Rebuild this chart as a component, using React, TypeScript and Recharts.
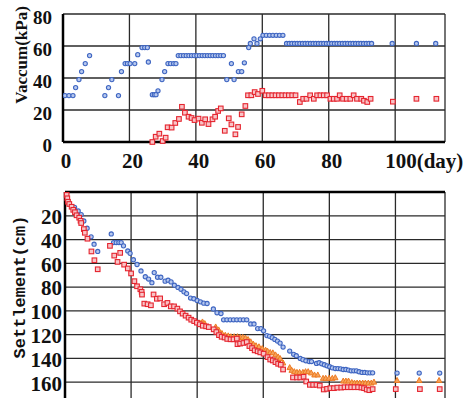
import React from "react";
import { CartesianGrid, Label, ReferenceLine, Scatter, ScatterChart, XAxis, YAxis } from "recharts";

// day ticks shared by both panels
const dayTicks = [0, 20, 40, 60, 80, 100];
const vacuumTicks = [0, 20, 40, 60, 80];
const settlementTicks = [0, 20, 40, 60, 80, 100, 120, 140, 160, 180];

// vacuum, blue circles
const vacBlueDays = [
  0.6, 1.8, 3, 3.8, 4.8, 5.6, 6.7, 8, 12.6, 13.7, 14.7, 16.7, 17.6, 18.7, 19.4, 20.2, 21.6, 22.5, 23.8, 24.6, 25.4, 25.7,
  26.9, 27.5, 28, 28.6, 29.8, 30.6, 31.6, 32.4, 33.3, 34, 34.7, 35.5, 36.3, 37.1, 37.9, 38.7, 39.5, 40.3, 41.1, 41.9,
  42.7, 43.5, 44.3, 45.1, 45.9, 46.7, 47.5, 48.3, 49.3, 50.7, 51.5, 52.8, 53.8, 54.6, 55.9, 56.4, 57.5, 58.4, 59.4,
  60.2, 61.2, 62.2, 63.2, 64.2, 65.2, 66.2, 67.3, 68.1, 68.9, 69.7, 70.5, 71.3, 72.1, 72.9, 73.7, 74.5, 75.3, 76.1,
  76.9, 77.7, 78.5, 79.3, 80.1, 80.9, 81.7, 82.5, 83.3, 84.1, 84.9, 85.7, 86.5, 87.3, 88.1, 88.9, 89.7, 90.5, 91.3,
  92.1, 92.9, 99.1, 106.4, 112.2,
];
const vacBlueKpa = [
  29, 29, 29, 34, 39, 44, 49, 54, 29, 34, 39, 29, 44, 49, 49, 49, 49, 54.6, 59, 59, 59, 50,
  29.6, 29.6, 29.6, 32, 39, 44, 49, 49, 49, 49, 54, 54, 54, 54, 54, 54, 54, 54, 54, 54,
  54, 54, 54, 54, 54, 54, 54, 54, 39, 49, 39, 44, 44, 49.5, 59, 61.6, 64.5, 61.6, 64.5,
  66.7, 66.7, 66.7, 66.7, 66.7, 66.7, 66.7, 61.6, 61.6, 61.6, 61.6, 61.6, 61.6, 61.6, 61.6, 61.6, 61.6, 61.6, 61.6,
  61.6, 61.6, 61.6, 61.6, 61.6, 61.6, 61.6, 61.6, 61.6, 61.6, 61.6, 61.6, 61.6, 61.6, 61.6, 61.6, 61.6, 61.6, 61.6,
  61.6, 61.6, 61.6, 61.6, 61.6,
];

// vacuum, red squares
const vacRedDays = [
  26.9, 27.9, 29, 30, 30.9, 31.5, 32.7, 33.8, 34.9, 35.8, 36.7, 37.8, 38.7, 39.6, 40.8, 41.8, 42.8, 43.8, 45, 45.8,
  46.7, 47.5, 48.7, 49.9, 50.7, 51.9, 52.7, 53.8, 54.9, 55.7, 56.7, 57.7, 58.7, 60, 61, 62, 63, 64, 65, 66, 67, 68,
  69, 70, 71.3, 72.3, 73.3, 74.4, 75.5, 76.5, 77.5, 78.5, 79.5, 80.5, 81.5, 82.5, 83.3, 84.3, 85.4, 86.5, 87.5, 88.5,
  89.8, 90.6, 91.6, 92.6, 99.3, 106.4, 112.4,
];
const vacRedKpa = [
  0, 3.3, 5.2, 0.6, 2.7, 9.2, 9, 11.9, 14.4, 22, 18.3, 15.8, 15, 13.7, 14.6, 12, 14.2, 11.2, 14.2, 15.8,
  19.4, 21, 7, 14.8, 11, 4.8, 9.4, 17.3, 22.5, 29.2, 29.2, 31.2, 30, 32, 29.2, 29.2, 29.2, 29.2, 29.2, 29.2, 29.2, 29.2,
  29.2, 29.2, 25, 27, 27, 29.2, 27, 29.2, 29.2, 29.2, 29.2, 27, 27, 27, 29.2, 27, 27, 27, 29.2, 27,
  27, 25.8, 25, 27, 25.2, 27, 27,
];

// settlement, blue circles
const setBlueDays = [
  2.9, 4, 4.9, 5.7, 6.7, 7.9, 8.8, 9.9, 14, 14.7, 15.5, 16.3, 17, 17.7, 19, 19.7, 20.7, 21.8, 23, 24.3, 25.3, 26.3,
  27, 28, 29, 30.3, 31.2, 32.1, 33.1, 34.2, 35.1, 36, 36.8, 38, 39, 40, 41, 42, 43, 44.9, 46, 47.2, 48, 49, 50, 51,
  52, 53, 54, 55, 56.2, 57.2, 58.3, 59.3, 60.1, 61.1, 61.9, 62.7, 63.5, 64.3, 65.1, 66, 68, 69.2, 70, 71.2, 72, 72.9,
  73.9, 74.6, 76.1, 76.9, 77.7, 78.5, 79.3, 80.1, 80.9, 81.8, 82.6, 83.4, 84.2, 85, 85.8, 86.6, 87.4, 88.2, 89, 89.9,
  90.7, 91.5, 92.3, 93.1, 100.5, 107.2, 113.4,
];
const setBlueCm = [
  12.9, 16, 19, 24.4, 30.5, 37.7, 43.9, 50, 35.3, 42.5, 42.5, 42.5, 42.5, 45.3, 49.6, 51.6, 57, 61, 66.4, 71.3, 73.2, 76.3,
  67.8, 71.7, 71.7, 75, 74.2, 75.6, 78.4, 80.3, 81.8, 84, 85.4, 89.2, 89.8, 91.2, 92.4, 93.5, 93.8, 98.4, 101.6, 102.2, 107.5, 107.5, 107.5, 107.5,
  107.5, 107.5, 107.5, 107.5, 111, 111, 114.9, 114.9, 116.8, 120.8, 121.4, 122.5, 124, 125.4, 127.1, 130.4, 133.8, 136.5, 137.7, 140, 141, 142,
  142.6, 142.6, 144.2, 143.6, 144.5, 145.3, 146.2, 147, 147.9, 148.5, 148.5, 148.7, 149.3, 149.3, 149.8, 150.4, 150.4, 150.4, 151.2, 151.8,
  151.8, 152.1, 152.1, 152.1, 152.3, 152.3, 152.3,
];

// settlement, red squares
const setRedDays = [
  0.5, 0.7, 0.9, 1.3, 2, 2.5, 3, 3.5, 4.3, 4.7, 4.9, 5.7, 6, 6.8, 8, 8.9, 9.9, 13.6, 14.9, 15.9, 16.7, 17.9, 19, 20,
  21, 21.8, 22.8, 23.2, 23.3, 24, 25, 26, 26.8, 27.8, 28.8, 30, 31, 32, 33, 34, 34.8, 35.6, 36.5, 37.4, 38.2, 39.1,
  39.9, 40.8, 41.7, 42.7, 43.5, 45, 45.8, 46.6, 47.4, 48.3, 49.1, 50.1, 51, 52, 52.2, 53, 54, 55, 55.8, 56.6, 57.4,
  58.3, 59.1, 60.1, 61.3, 62.1, 62.9, 63.7, 64.5, 65.3, 66, 69, 70.2, 71.2, 72.2, 73, 74.1, 75.1, 76.1, 77.1, 78.3,
  79.3, 80.3, 81.4, 82.4, 83.6, 84.6, 85.6, 86.6, 87.6, 88.7, 89.7, 90.5, 91.3, 92.1, 93.1, 100.1, 107.4, 113.4,
];
const setRedCm = [
  2.4, 5.3, 8.2, 10.1, 12.4, 15, 17, 19.6, 21.6, 24.2, 26.1, 31.2, 34.3, 39.3, 50, 57.4, 65, 45.3, 53.5, 58.8, 51.2, 61.1, 64.3, 68.5,
  75, 79.3, 81.8, 84, 86.3, 93.9, 94.4, 95.3, 86.2, 89.8, 89.5, 94.4, 93.3, 96.2, 96.2, 98.1, 100.4, 102.3, 104, 105.7, 107.4, 108.6,
  109.9, 111.3, 112.5, 113, 113.6, 115.5, 117.8, 120.4, 121.8, 122.4, 123.6, 123.9, 123.9, 123.3, 128, 127.5, 127, 126.2, 129.6, 131.3, 133.2,
  134, 134.9, 136, 138.9, 140.9, 141.7, 143.1, 144.5, 145.3, 149.3, 156, 156, 156, 155.4, 159.4, 162.2, 162.2, 162.2, 162.8, 166.1,
  165.6, 165, 165, 164.5, 164.5, 164.2, 164.2, 164.2, 164.2, 164.2, 164.5, 165, 166.1, 166.7, 165.8, 165.8, 165.8, 165.8,
];

// settlement, orange triangles
const setOrangeDays = [
  40.8, 41.6, 42.3, 45.6, 46.5, 47.5, 48.5, 49.4, 50.2, 51.2, 52.2, 53, 53.8, 54.6, 55.4, 56.2, 57, 57.8, 58.7, 59.7,
  60.7, 61.3, 62.1, 62.9, 63.7, 64.5, 65.1, 66, 68, 68.6, 69.4, 70.2, 71, 72, 72.8, 73.6, 74.5, 75.5, 76.5, 78.1, 78.9,
  79.9, 80.9, 81.8, 84.2, 85, 85.8, 86.8, 87.6, 88.4, 89.2, 90.1, 90.9, 91.8, 92.7, 93.5, 100.5, 107.2, 113.2,
];
const setOrangeCm = [
  110.2, 109.3, 110.7, 113.5, 116, 119, 120.5, 121, 121.7, 121.7, 121.7, 122.3, 122.3, 122.8, 124, 126, 128, 129.3, 130.2, 131.6,
  133, 133.9, 135, 135.3, 137, 138.7, 140.1, 143.8, 147.7, 150, 151.1, 151.7, 151.7, 151.7, 151.1, 151.1, 152.2, 153.9, 153.9, 156.7, 156.7,
  156.7, 156.7, 156.2, 159, 159, 159, 160.2, 160.7, 160.7, 160.7, 160.7, 160.7, 160.7, 160.7, 159.9, 158.5, 158.5, 158.5,
];

const toPoints = (xs: number[], ys: number[]) => xs.map((x, i) => ({ x, y: ys[i] }));

const serif = "Liberation Serif";
const mono = "Liberation Mono";

const Circle = (p: any) => <circle cx={p.cx} cy={p.cy} r={2.1} fill="#b7c8ee" stroke="#3f66c2" strokeWidth={1.1} />;
const Square = (p: any) => (
  <rect x={p.cx - 2.3} y={p.cy - 2.3} width={4.6} height={4.6} fill="#f8c3c6" stroke="#e5252f" strokeWidth={1.1} />
);
const Triangle = (p: any) => (
  <path d={`M${p.cx},${p.cy - 3} L${p.cx + 2.7},${p.cy + 2} L${p.cx - 2.7},${p.cy + 2} Z`} fill="#f5a35a" stroke="#ee7a22" strokeWidth={1} />
);

const txt = (size: number, family = serif) => ({ fontFamily: family, fontWeight: 700, fontSize: size, fill: "#111" });

const DayTick = ({ x, y, payload }: any) => {
  const last = payload.value === 100;
  return (
    <text x={last ? x - 10 : x + 3} y={y} dy="0.71em" textAnchor={last ? "start" : "middle"} style={txt(21)}>
      {last ? "100(day)" : payload.value}
    </text>
  );
};

const VacTick = ({ x, y, payload }: any) => (
  <text x={x} y={y + 3} dy="0.35em" textAnchor="end" style={txt(19)}>
    {payload.value}
  </text>
);

const SettleTick = ({ x, y, payload }: any) =>
  payload.value === 0 || payload.value === 180 ? null : (
    <text x={x} y={y + 1} dy="0.35em" textAnchor="end" style={txt(21)}>
      {payload.value}
    </text>
  );

const gridColor = "#2a2a2a";

export default function App() {
  return (
    <div style={{ position: "fixed", left: 0, top: 0, width: 466, height: 398, overflow: "hidden", background: "#fff" }}>
      <div style={{ position: "absolute", left: 0, top: 0 }}>
        <ScatterChart width={466} height={175} margin={{ top: 14, right: 21, left: 0, bottom: 0 }}>
          <CartesianGrid stroke={gridColor} strokeWidth={1.3} />
          <XAxis
            type="number"
            dataKey="x"
            domain={[0, 115]}
            ticks={dayTicks}
            interval={0}
            allowDataOverflow
            height={33}
            axisLine={{ stroke: "#000", strokeWidth: 2.5 }}
            tickLine={false}
            tickSize={6}
            tickMargin={5}
            tick={<DayTick />}
          />
          <YAxis
            type="number"
            dataKey="y"
            domain={[0, 80]}
            ticks={vacuumTicks}
            interval={0}
            width={63}
            axisLine={{ stroke: "#000", strokeWidth: 2.5 }}
            tickLine={false}
            tickMargin={5}
            tick={<VacTick />}
          >
            <Label
              content={() => (
                <text x={21} y={55} transform="rotate(-90, 21, 55)" textAnchor="middle" dominantBaseline="central" style={txt(17)}>
                  Vaccum(kPa)
                </text>
              )}
            />
          </YAxis>
          <Scatter data={toPoints(vacBlueDays, vacBlueKpa)} shape={Circle} isAnimationActive={false} />
          <Scatter data={toPoints(vacRedDays, vacRedKpa)} shape={Square} isAnimationActive={false} />
        </ScatterChart>
      </div>
      <div style={{ position: "absolute", left: 0, top: 180 }}>
        <ScatterChart width={466} height={226} margin={{ top: 12, right: 21, left: 0, bottom: 0 }}>
          <CartesianGrid stroke={gridColor} strokeWidth={1.3} />
          <XAxis type="number" dataKey="x" domain={[0, 115]} ticks={dayTicks} interval={0} hide />
          <YAxis
            type="number"
            dataKey="y"
            domain={[0, 180]}
            ticks={settlementTicks}
            interval={0}
            reversed
            width={65}
            axisLine={{ stroke: "#000", strokeWidth: 2.5 }}
            tickLine={false}
            tickSize={0}
            tickMargin={3}
            tick={<SettleTick />}
          >
            <Label
              content={() => (
                <text x={20} y={107} transform="rotate(-90, 20, 107)" textAnchor="middle" dominantBaseline="central" style={txt(17, mono)}>
                  Settlement(cm)
                </text>
              )}
            />
          </YAxis>
          <ReferenceLine y={0} stroke="#000" strokeWidth={2.5} />
          <Scatter data={toPoints(setBlueDays, setBlueCm)} shape={Circle} isAnimationActive={false} />
          <Scatter data={toPoints(setOrangeDays, setOrangeCm)} shape={Triangle} isAnimationActive={false} />
          <Scatter data={toPoints(setRedDays, setRedCm)} shape={Square} isAnimationActive={false} />
        </ScatterChart>
      </div>
    </div>
  );
}
